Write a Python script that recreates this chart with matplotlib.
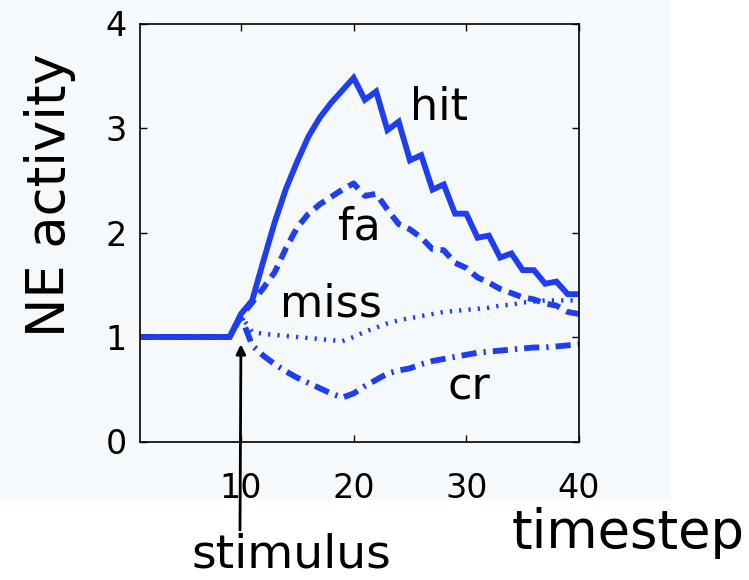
import numpy as np
import matplotlib.pyplot as plt
from matplotlib.patches import Rectangle
from matplotlib.text import Annotation

t = np.arange(1, 41)

base = [1.0] * 9
hit = base + [1.22, 1.35, 1.73, 2.1, 2.42, 2.68, 2.92, 3.1, 3.24, 3.36, 3.48,
              3.27, 3.35, 2.98, 3.06, 2.69, 2.74, 2.41, 2.46, 2.18, 2.18,
              1.95, 1.97, 1.76, 1.8, 1.64, 1.64, 1.51, 1.53, 1.41, 1.41]
fa = base + [1.2, 1.33, 1.47, 1.62, 1.85, 2.05, 2.18, 2.27, 2.34, 2.41, 2.47,
             2.35, 2.37, 2.22, 2.08, 2.03, 1.95, 1.84, 1.83, 1.71, 1.66,
             1.57, 1.52, 1.46, 1.42, 1.38, 1.36, 1.32, 1.30, 1.24, 1.22]
miss = base + [1.2, 1.05, 1.03, 1.02, 1.01, 1.0, 0.99, 0.98, 0.97, 0.96, 1.0,
               1.05, 1.09, 1.13, 1.16, 1.18, 1.2, 1.22, 1.24, 1.25, 1.26,
               1.27, 1.28, 1.3, 1.31, 1.33, 1.34, 1.35, 1.35, 1.35, 1.35]
cr = base + [1.2, 0.92, 0.82, 0.74, 0.67, 0.61, 0.56, 0.51, 0.46, 0.42, 0.46,
             0.53, 0.59, 0.65, 0.68, 0.70, 0.74, 0.77, 0.79, 0.81, 0.83,
             0.85, 0.86, 0.87, 0.88, 0.89, 0.9, 0.9, 0.91, 0.92, 0.93]

xticks = [10, 20, 30, 40]
yticks = [0, 1, 2, 3, 4]

blue = '#1e3ef0'
panel = '#f6f9fb'
W, H = 749, 580

fig = plt.figure(figsize=(W / 100, H / 100), dpi=100, facecolor='white')
# light panel behind the plot (screenshot look)
fig.add_artist(Rectangle((0, 80 / H), 671 / W, 1 - 80 / H, transform=fig.transFigure,
                         facecolor=panel, edgecolor='none', zorder=-1))

ax = fig.add_axes([139.5 / W, 1 - 441.5 / H, (579 - 139.5) / W, (441.5 - 23.5) / H])
ax.set_facecolor(panel)

ax.plot(t, hit, color=blue, lw=4.2, solid_joinstyle='miter')
ax.plot(t, fa, color=blue, lw=4.2, linestyle=(0, (2.2, 1.3)))
ax.plot(t, miss, color=blue, lw=3.2, linestyle=(0, (0.5, 1.6)))
ax.plot(t, cr, color=blue, lw=4.2, linestyle=(0, (2.6, 1.2, 0.4, 1.2)))

lab = dict(fontsize=32, color='black', va='baseline', ha='left')
ax.text(25.0, 3.08, 'hit', **lab)
ax.text(18.6, 1.93, 'fa', **lab)
ax.text(13.5, 1.2, 'miss', **lab)
ax.text(28.3, 0.40, 'cr', **lab)

ax.set_xlim(1, 40)
ax.set_ylim(0, 4)
ax.set_xticks(xticks)
ax.set_yticks(yticks)
ax.tick_params(axis='both', direction='in', length=5, width=1, labelsize=24)
ax.tick_params(axis='x', pad=22, top=True)
ax.tick_params(axis='y', pad=9, right=True)
for s in ax.spines.values():
    s.set_linewidth(1.2)

ax.set_ylabel('NE activity', fontsize=38)
ax.yaxis.set_label_coords(-0.144, 0.59)

# white strip cutting the bottom of the tick labels
fig.add_artist(Rectangle((0, 0), 1, 80 / H, transform=fig.transFigure,
                         facecolor='white', edgecolor='none', zorder=5))

arrow = Annotation('', xy=(10, 0.93), xycoords=ax.transData,
                   xytext=(240 / W, 1 - 530 / H), textcoords='figure fraction',
                   arrowprops=dict(arrowstyle='-|>', color='black', lw=2,
                                   mutation_scale=14, shrinkA=0, shrinkB=0))
arrow.set_zorder(10)
fig.add_artist(arrow)

fig.text(291 / W, 1 - 567 / H, 'stimulus', fontsize=34, ha='center', va='baseline', zorder=10)
fig.text(628 / W, 1 - 548 / H, 'timestep', fontsize=38, ha='center', va='baseline', zorder=10)

fig.savefig('out.png', dpi=100, facecolor='white')
